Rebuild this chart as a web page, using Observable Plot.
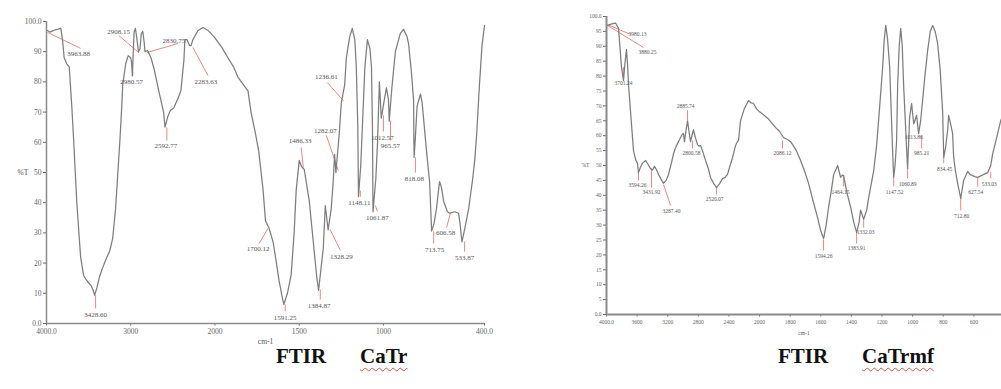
<!DOCTYPE html>
<html><head><meta charset="utf-8">
<script src="https://cdn.jsdelivr.net/npm/d3@7"></script>
<script src="https://cdn.jsdelivr.net/npm/@observablehq/plot@0.6"></script>
<style>
body{margin:0;background:#fff;overflow:hidden}
#wrap{position:relative;width:1001px;height:389px;overflow:hidden;background:#fff}
#left{position:absolute;left:0;top:0;width:500px;height:350px;overflow:hidden}
#right{position:absolute;left:500px;top:0;width:501px;height:350px;overflow:hidden}
.title{position:absolute;top:344px;font-family:"Liberation Serif",serif;font-weight:bold;font-size:21px;white-space:pre;color:#111}
.title.u{text-decoration:underline wavy #e05050;text-decoration-thickness:1px;text-underline-offset:4px}
</style></head><body>
<div id="wrap">
  <div id="left"></div>
  <div id="right"></div>
  <div class="title" style="left:276px">FTIR</div>
  <div class="title u" style="left:360px">CaTr</div>
  <div class="title" style="left:778px">FTIR</div>
  <div class="title u" style="left:862px">CaTrmf</div>
</div>
<script>
// ---------- Left spectrum: FTIR CaTr ----------
const leftWn = [3990,3960,3900,3860,3830,3810,3790,3760,3730,3700,3680,3640,3610,3595,3560,3530,3500,3470,3445,3428.6,3400,3370,3340,3290,3250,3215,3180,3155,3130,3110,3095,3060,3030,3000,2990,2980.57,2970,2960,2945,2930,2908.15,2890,2875,2857,2840,2830.75,2800,2760,2726,2667,2610,2592.77,2560,2530,2488,2440,2405,2369,2357,2333,2300,2283.63,2262,2200,2143,2080,2012,1960,1923,1890,1863,1830,1804,1786,1760,1740,1714,1700.12,1679,1655,1635,1619,1600,1591.25,1570,1548,1530,1518,1500,1486.33,1470,1440,1411,1395,1384.87,1357,1345,1328.29,1310,1298,1290,1282.07,1262,1250,1240,1236.61,1230,1220,1200,1185,1170,1161,1152,1148.11,1135,1125,1110,1095,1080,1071,1065,1061.87,1045,1035,1024,1012.57,995,982,970,965.57,950,929,900,881,860,851,835,821,818.08,812,800,780,770,762,744,726,713.75,700,685,667,655,643,620,606.58,577,554,545,533.87,515,494,470,458,446,430,415,400];
const leftT = [97,96.5,97.2,97.5,97.8,94,88,86,85,72,62,40,28,22,16,14.5,13.5,12.5,11,9.3,12,15.5,18,21.5,24,28,38,49,60,70,79,86,88.7,88,86.5,82,90,96.5,97.7,95,90,91,96,96.7,93,90,90.4,88,84.7,77,70,65,68.5,70.5,71.4,74.5,77,87,94,94,92,92,94,97,98,97,95,91.5,88,85,81.5,79,77,70,63,57,44,34,31.6,27,20,14,8.5,6.3,10,16,30,44,54,52,51,40.5,24,15,11,25,39,31,38,47,56,50,63,73,76,77,79,88,95,97.7,94,85,65,42,52,65,85,94,91,85,65,37,48,60,80,68,74,78,74,67,78,90,96,97.4,95,92.7,84,74,55,60,72,76,73,68,57,47,30.6,33,38,47,45,40.5,37,36.5,37,36.5,33,27,32,38,48,54,63,79,92,98.7];

const leftXTicks = [4000,3000,2000,1500,1000,400];
const leftYTicks = [0,10,20,30,40,50,60,70,80,90,100];

const leftLabels = ["3963.88","2908.15","2980.57","2830.75","2283.63","2592.77","3428.60","1591.25","1384.87","1700.12","1486.33","1282.07","1236.61","1328.29","1148.11","1061.87","1012.57","965.57","818.08","606.58","713.75","533.87"];
const leftLabelWn = [3619,3143,2988,2488,2107,2583,3417,1583,1381,1744,1494,1345,1339,1250,1143,1036,1006,958,816,631,696,518];
const leftLabelT  = [89.4,96.7,80.1,93.7,80.1,58.9,3.0,2.0,6.0,24.8,60.6,63.9,81.8,22.2,40.1,35.1,61.6,58.9,48.0,30.1,24.5,21.9];
const leftLeadWn1 = [3988,3143,2976,2810,2262,2571,3417,1583,1375,1685,1488,1339,1333,1316,1137,1048,1000,958,810,601,702,518];
const leftLeadT1  = [96.4,95.4,83.5,89.7,91.4,64.9,9.3,6.3,11.3,31.5,58.3,62.3,79.8,31.1,44,39.1,68.9,67.2,55,36.8,30.5,27.2];
const leftLeadWn2 = [3595,2905,2976,2440,2083,2571,3417,1583,1375,1738,1476,1268,1238,1256,1137,1036,1000,958,810,625,702,518];
const leftLeadT2  = [91.1,89.7,82,92.7,82.1,60.6,5.0,4.0,7.9,26.5,51.7,50.7,73.8,24.2,42,37.1,63.6,60.6,50,31.8,26.5,23.8];

// ---------- Right spectrum: FTIR CaTrmf ----------
const rightWn = [3987,3930,3882,3843,3804,3778,3760,3739,3725,3712,3680,3647,3620,3595,3582,3555,3529,3490,3460,3425,3399,3373,3345,3320,3290,3255,3220,3190,3155,3124,3090,3059,3033,3010,2994,2981,2960,2941,2920,2902,2880,2863,2840,2811,2790,2771,2740,2706,2670,2641,2600,2562,2520,2484,2450,2419,2385,2353,2314,2290,2275,2249,2200,2144,2110,2079,2040,2000,1974,1940,1895,1870,1843,1820,1797,1784,1760,1732,1705,1680,1650,1621,1600,1582,1565,1549,1530,1516,1490,1471,1460,1451,1430,1405,1385,1366,1350,1340,1320,1300,1288,1270,1255,1235,1215,1196,1186,1176,1165,1150,1140,1131,1124,1115,1105,1098,1088,1078,1068,1059,1048,1039,1033,1026,1020,1007,993,974,961,948,935,920,902,885,869,853,837,820,804,797,785,771,765,752,739,732,720,706,686,667,641,625,608,590,575,555,536,510,490,477,460,445,425,410];
const rightT = [97,97.5,97.8,96,83,78.5,84,89,84,77,66,55,52,50.7,47.6,49.5,50.7,51.7,50.5,49,48.5,49.7,48.5,47,45.5,44,45,47,50.5,54,56.5,58,59.4,60.5,60.7,58,62,65,61,58,60.5,62,59.5,57,56.5,56.7,54.5,51.7,49,46,44,42.6,44,45.6,46,47,50,52.7,56.7,58,58.4,65,69,71.8,71,70.8,69,68,67,65.5,62.7,61.5,59.4,58.8,58,57,55,51.7,48,44,38,32.5,28,25.5,30,36,42,47,50,46,46.8,46.6,41,36,31,27.5,31,35,32,35,39,44,48,57,70,83,92,97,93,83,68,55,46,50,58,77,90,96,90,77,65,55,49,58,66,70.8,64,66.8,60.7,65,71.8,80,88.6,95,97,95,91,82,68,52.7,56,62,66.8,64,60.7,52.7,48,44,39,45,48,47,46.6,46.2,46,46.5,47,47.6,50,54,57.5,60.7,65,67];

const rightXTicks = [4000,3600,3200,2800,2400,2000,1800,1600,1400,1200,1000,800,600,400];
const rightYTicks = [0,5,10,15,20,25,30,35,40,45,50,55,60,65,70,75,80,85,90,95,100];

const rightLabels = ["3980.13","3880.25","3701.24","3594.26","3431.92","3287.40","2885.74","2800.58","2520.07","2086.12","1594.26","1464.15","1383.91","1332.03","1147.52","1060.89","985.21","1013.86","834.45","712.80","627.54","533.03"];
const rightLabelWn = [3595,3464,3778,3595,3412,3150,2967,2889,2588,1850,1582,1471,1366,1307,1118,1033,941,993,791,680,588,500];
const rightLabelT  = [94,87.9,77.5,43.3,40.9,34.6,69.8,54,38.6,54,19.5,40.9,22.1,27.5,40.9,43.6,54,59.4,48.7,32.9,40.9,43.6];
const rightLeadWn1 = [3987,3987,3778,3582,3412,3255,2941,2876,2562,1850,1582,1451,1366,1320,1124,1033,941,null,797,686,575,490];
const rightLeadT1  = [97.3,97,83,47.7,49,43.6,68.5,58.4,42.6,58.4,25.2,46.6,27.5,32.2,46,49.3,60.1,null,52.7,39.3,46,47.7];
const rightLeadWn2 = [3686,3516,3778,3582,3412,3163,2941,2876,2562,1850,1582,1451,1366,1320,1124,1033,941,null,797,686,575,490];
const rightLeadT2  = [94,89.6,79.5,45,42.6,36.6,65.1,55.7,40.3,55.7,21.5,43,23.8,29.2,43,45.6,55.7,null,50.7,34.9,43,45.6];

// ---------- build ----------
// The instrument's wavenumber axis is compressed 2x above 2000 cm-1:
// map wavenumber to an axis position (4000 -> 0, 2000 -> 1000, 400 -> 2600).
const warp = w => w == null ? null : (w >= 2000 ? (4000 - w) / 2 : 1000 + (2000 - w));
const endFmt = d => (d === 0 || d === 100 || d === 4000 || d === 400) ? d.toFixed(1) : String(d);

const toPts = (wn, t) => wn.map((w, i) => ({p: warp(w), t: t[i]}));
const toLabels = (lab, lx, ly, x1, y1, x2, y2) => lab.map((s, i) => ({label: s, lx: warp(lx[i]), ly: ly[i], x1: warp(x1[i]), y1: y1[i], x2: warp(x2[i]), y2: y2[i]}));

function spectrum(o) {
  const pts = toPts(o.wn, o.t);
  const labs = o.labels;
  const leads = labs.filter(d => d.x1 != null);
  const tickPos = o.xTicks.map(warp);
  const tickText = new Map(o.xTicks.map(w => [warp(w), o.hideLast && w === 400 ? "" : endFmt(w)]));
  return Plot.plot({
    width: o.width, height: 350,
    marginLeft: o.ml, marginRight: o.mr, marginTop: o.mt, marginBottom: o.mb,
    x: {type: "linear", domain: [0, 2600], range: o.xRange},
    y: {domain: [0, 100]},
    style: {fontFamily: "'Liberation Serif', serif", fontSize: o.fs + "px", color: "#666", background: "transparent"},
    marks: [
      Plot.axisY({ticks: o.yTicks, tickFormat: endFmt, tickSize: 3, tickPadding: 2, label: null, fontSize: o.fs}),
      Plot.axisX({ticks: tickPos, tickFormat: v => tickText.get(v), tickSize: 2.5, tickPadding: 3, label: null, fontSize: o.fs}),
      Plot.ruleX([0], {stroke: "#8a8a8a", strokeWidth: o.aw}),
      Plot.ruleY([0], {stroke: "#8a8a8a", strokeWidth: o.aw}),
      Plot.link(leads, {x1: "x1", y1: "y1", x2: "x2", y2: "y2", stroke: "#e68a84", strokeWidth: 1}),
      Plot.line(pts, {x: "p", y: "t", stroke: "#7d7d7d", strokeWidth: 1.25}),
      Plot.text(labs, {x: "lx", y: "ly", text: "label", fill: "#555", fontSize: o.ls}),
      Plot.text(["%T"], {text: d => d, frameAnchor: "left", dx: o.ydx, fill: "#555", fontSize: o.fs}),
      Plot.text(["cm-1"], {text: d => d, frameAnchor: "bottom", dy: o.xdy, fill: "#555", fontSize: o.fs})
    ]
  });
}

document.getElementById("left").append(spectrum({
  wn: leftWn, t: leftT, width: 500, ml: 46, mr: 16, mt: 21, mb: 27,
  xRange: [46, 484], xTicks: leftXTicks, yTicks: leftYTicks, fs: 7.5, ls: 7, aw: 1.5, ydx: -29, xdy: 20, hideLast: false,
  labels: toLabels(leftLabels, leftLabelWn, leftLabelT, leftLeadWn1, leftLeadT1, leftLeadWn2, leftLeadT2)
}));
document.getElementById("right").append(spectrum({
  wn: rightWn, t: rightT, width: 501, ml: 106, mr: 0, mt: 16, mb: 36,
  xRange: [106, 504], xTicks: rightXTicks, yTicks: rightYTicks, fs: 5.5, ls: 5.5, aw: 2, ydx: -25, xdy: 20, hideLast: true,
  labels: toLabels(rightLabels, rightLabelWn, rightLabelT, rightLeadWn1, rightLeadT1, rightLeadWn2, rightLeadT2)
}));
</script>
</body></html>
